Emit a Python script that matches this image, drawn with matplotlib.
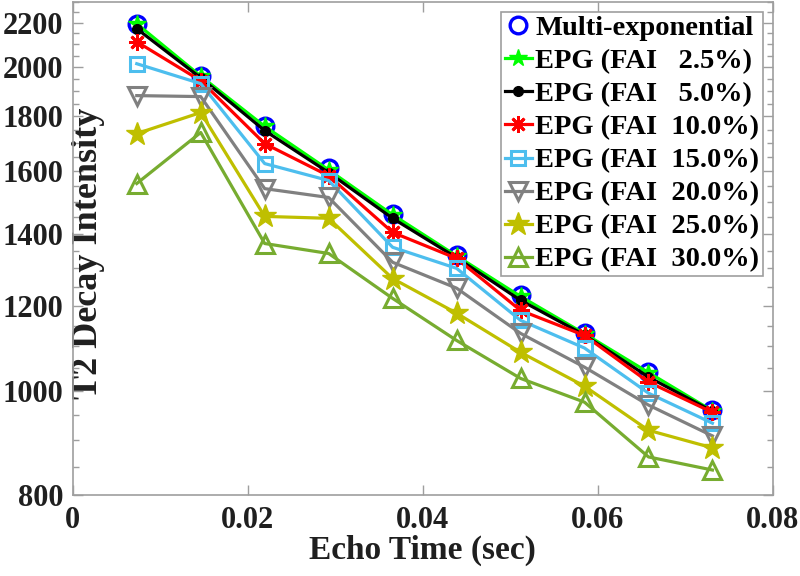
import matplotlib
matplotlib.use("Agg")
import matplotlib.pyplot as plt
from matplotlib.ticker import FixedLocator, NullFormatter

plt.rcParams['font.family'] = ['Liberation Serif', 'DejaVu Serif']
plt.rcParams['font.weight'] = 'bold'

echo_time = [0.00731, 0.01462, 0.02193, 0.02924, 0.03655, 0.04386, 0.05117, 0.05848, 0.06579, 0.07310]

multi_exp = [2195, 1964, 1765, 1610, 1462, 1337, 1227, 1131, 1041, 959]
fai_2_5 = [2195, 1962, 1762, 1605, 1458, 1335, 1224, 1130, 1040, 958]
fai_5_0 = [2172, 1955, 1746, 1596, 1447, 1330, 1214, 1127, 1030, 957]
fai_10_0 = [2112, 1943, 1698, 1585, 1404, 1328, 1188, 1126, 1019, 955]
fai_15_0 = [2015, 1931, 1627, 1569, 1360, 1300, 1163, 1096, 995, 933]
fai_20_0 = [1882, 1878, 1542, 1513, 1317, 1246, 1131, 1052, 970, 908]
fai_25_0 = [1735, 1815, 1453, 1447, 1272, 1181, 1086, 1010, 919, 885]
fai_30_0 = [1559, 1739, 1371, 1342, 1219, 1114, 1027, 976, 868, 844]

labels = ["Multi-exponential",
          "EPG (FAI   2.5%)",
          "EPG (FAI   5.0%)",
          "EPG (FAI  10.0%)",
          "EPG (FAI  15.0%)",
          "EPG (FAI  20.0%)",
          "EPG (FAI  25.0%)",
          "EPG (FAI  30.0%)"]

y_ticks = [800, 1000, 1200, 1400, 1600, 1800, 2000, 2200]
x_ticks = [0, 0.02, 0.04, 0.06, 0.08]
x_ticklabels = ["0", "0.02", "0.04", "0.06", "0.08"]

fig = plt.figure(figsize=(8, 5.76), dpi=100)
ax = fig.add_axes([0.091, 0.1406, 0.875, 0.856])

lw = 2.3
mew = 2.2
c_blue = (0, 0, 1)
c_green = (0, 1, 0)
c_cyan = (0.30, 0.745, 0.933)
c_gray = (0.5, 0.5, 0.5)
c_yellow = (0.75, 0.75, 0.0)
c_olive = (0.466, 0.674, 0.188)
txt_c = (0.12, 0.12, 0.12)

ax.plot(echo_time, multi_exp, linestyle='none', marker='o', ms=12, mfc='none',
        mec=c_blue, mew=2.4, label=labels[0])
ax.plot(echo_time, fai_2_5, color=c_green, lw=lw, marker='*', ms=13, mfc=c_green,
        mec=c_green, label=labels[1])
ax.plot(echo_time, fai_5_0, color='black', lw=lw, marker='o', ms=7, mfc='black',
        mec='black', label=labels[2])
ax.plot(echo_time, fai_10_0, color='red', lw=lw, marker=(8, 2, 0), ms=12,
        mec='red', mew=2.0, label=labels[3])
ax.plot(echo_time, fai_15_0, color=c_cyan, lw=lw, marker='s', ms=10, mfc='none',
        mec=c_cyan, mew=mew, label=labels[4])
ax.plot(echo_time, fai_20_0, color=c_gray, lw=lw, marker='v', ms=13, mfc='none',
        mec=c_gray, mew=mew, label=labels[5])
ax.plot(echo_time, fai_25_0, color=c_yellow, lw=lw, marker='*', ms=17, mfc=c_yellow,
        mec=c_yellow, label=labels[6])
ax.plot(echo_time, fai_30_0, color=c_olive, lw=lw, marker='^', ms=13, mfc='none',
        mec=c_olive, mew=mew, label=labels[7])

ax.set_yscale('log')
ax.set_ylim(800, 2300)
ax.set_xlim(0, 0.08)
ax.yaxis.set_major_locator(FixedLocator(y_ticks))
ax.set_yticklabels([str(v) for v in y_ticks])
minor = [v for v in range(800, 2301, 50) if v not in y_ticks]
ax.yaxis.set_minor_locator(FixedLocator(minor))
ax.yaxis.set_minor_formatter(NullFormatter())
ax.set_xticks(x_ticks)
ax.set_xticklabels(x_ticklabels)

spine_c = (0.62, 0.62, 0.62)
for s in ax.spines.values():
    s.set_color(spine_c)
    s.set_linewidth(1.2)
ax.tick_params(axis='both', which='both', direction='in', top=True, right=True,
               colors=spine_c, labelcolor=txt_c, labelsize=22)
ax.tick_params(which='major', length=7, width=1.0)
ax.tick_params(which='minor', length=4, width=1.0)
ax.tick_params(axis='x', pad=8)
ax.tick_params(axis='y', pad=7)

ax.set_xlabel("Echo Time (sec)", fontsize=24, fontweight='bold', color=txt_c, labelpad=0)
ax.set_ylabel("T2 Decay Intensity", fontsize=26, fontweight='bold', color=txt_c)
ax.yaxis.set_label_coords(0.046, 0.49)

leg = ax.legend(loc='upper right', fontsize=20.5, frameon=True, fancybox=False,
                edgecolor=spine_c, handlelength=0.95, handletextpad=0.12,
                borderpad=0.12, labelspacing=0.25, borderaxespad=0.35,
                framealpha=1.0)
leg.get_frame().set_linewidth(1.2)
for t in leg.get_texts():
    t.set_fontweight('bold')
    t.set_color('black')

fig.savefig("out.png", dpi=100)
